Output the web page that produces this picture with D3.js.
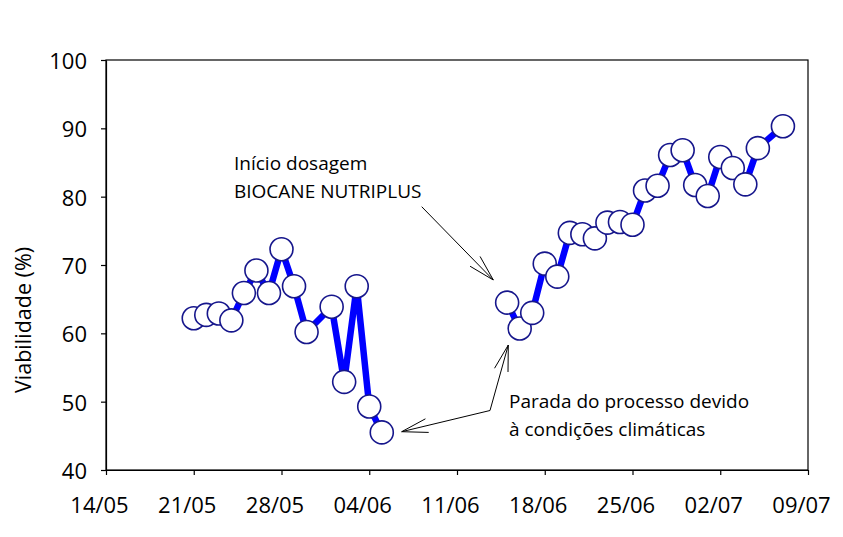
<!DOCTYPE html>
<html>
<head>
<meta charset="utf-8">
<script src="https://cdn.jsdelivr.net/npm/d3@7"></script>
<style>
  html, body { margin: 0; padding: 0; background: #fff; }
  svg { display: block; }
  text { font-family: "Open Sans", sans-serif; fill: #000; }
</style>
</head>
<body>
<svg id="chart" width="843" height="537"></svg>
<script>
// ---- data ----
const year = "2012";
const dates1 = ["21/05","22/05","23/05","24/05","25/05","26/05","27/05","28/05","29/05","30/05","01/06","02/06","03/06","04/06","05/06"];
const values1 = [62.2, 62.7, 62.9, 61.9, 65.9, 69.2, 65.9, 72.3, 66.9, 60.2, 63.9, 52.9, 66.9, 49.3, 45.5];
const dates2 = ["15/06","16/06","17/06","18/06","19/06","20/06","21/06","22/06","23/06","24/06","25/06","26/06","27/06","28/06","29/06","30/06","01/07","02/07","03/07","04/07","05/07","07/07"];
const values2 = [64.5, 60.7, 63.0, 70.2, 68.3, 74.7, 74.5, 73.9, 76.2, 76.3, 75.9, 80.9, 81.6, 86.1, 86.8, 81.7, 80.1, 85.8, 84.2, 81.8, 87.1, 90.3];
const xTickLabels = ["14/05","21/05","28/05","04/06","11/06","18/06","25/06","02/07","09/07"];
const yTicks = [40, 50, 60, 70, 80, 90, 100];
const yTitle = "Viabilidade (%)";
const note1 = ["Início dosagem", "BIOCANE NUTRIPLUS"];
const note2 = ["Parada do processo devido", "à condições climáticas"];

// ---- setup ----
const parse = d3.timeParse("%d/%m/%Y");
const toDate = s => parse(s + "/" + year);
const fmt = d3.timeFormat("%d/%m");
const svg = d3.select("#chart");
svg.append("rect").attr("width", 843).attr("height", 537).attr("fill", "#fff");

const L = 106, R = 808, T = 60, B = 470;
const x = d3.scaleTime()
  .domain([toDate(xTickLabels[0]), toDate(xTickLabels[xTickLabels.length - 1])])
  .range([L, R]);
const y = d3.scaleLinear().domain([40, 100]).range([B, T]);

// frame
svg.append("rect").attr("x", L).attr("y", T).attr("width", R - L).attr("height", B - T)
  .attr("fill", "none").attr("stroke", "#000").attr("stroke-width", 1.2);

// x axis
const gx = svg.append("g").attr("transform", `translate(0,${B})`)
  .call(d3.axisBottom(x).tickValues(xTickLabels.map(toDate)).tickFormat(fmt)
    .tickSize(5).tickSizeOuter(0).tickPadding(22));
gx.selectAll("text").attr("font-size", 22).attr("font-family", "Open Sans, sans-serif").attr("dx", -7);
gx.selectAll("line, path").attr("stroke", "#000").attr("stroke-width", 1.2);

// y axis
const gy = svg.append("g").attr("transform", `translate(${L},0)`)
  .call(d3.axisLeft(y).tickValues(yTicks).tickSize(5).tickSizeOuter(0).tickPadding(14));
gy.selectAll("text").attr("font-size", 22).attr("font-family", "Open Sans, sans-serif").attr("dy", "0.38em");
gy.selectAll("line, path").attr("stroke", "#000").attr("stroke-width", 1.2);

// y title
svg.append("text")
  .attr("transform", `translate(31,320) rotate(-90)`)
  .attr("text-anchor", "middle")
  .attr("font-size", 21.5)
  .text(yTitle);

// ---- series ----
const series = [
  dates1.map((d, i) => ({ date: toDate(d), v: values1[i] })),
  dates2.map((d, i) => ({ date: toDate(d), v: values2[i] }))
];
const line = d3.line().x(d => x(d.date)).y(d => y(d.v));
svg.selectAll("path.series").data(series).enter().append("path")
  .attr("class", "series")
  .attr("d", line)
  .attr("fill", "none")
  .attr("stroke", "#0000ff")
  .attr("stroke-width", 6.5)
  .attr("stroke-linejoin", "miter");

const allPts = series.flat();
svg.selectAll("circle.pt").data(allPts).enter().append("circle")
  .attr("class", "pt")
  .attr("cx", d => x(d.date))
  .attr("cy", d => y(d.v))
  .attr("r", 11.5)
  .attr("fill", "#fff")
  .attr("stroke", "#16168c")
  .attr("stroke-width", 1.6);

// ---- annotations ----
const g = svg.append("g").attr("stroke", "#000").attr("stroke-width", 1).attr("fill", "none");
function arrow(tail, tip, len = 27, ang = 15) {
  g.append("line").attr("x1", tail[0]).attr("y1", tail[1]).attr("x2", tip[0]).attr("y2", tip[1]);
  const a = Math.atan2(tail[1] - tip[1], tail[0] - tip[0]);
  [-1, 1].forEach(s => {
    const b = a + s * ang * Math.PI / 180;
    g.append("line").attr("x1", tip[0]).attr("y1", tip[1])
      .attr("x2", tip[0] + len * Math.cos(b)).attr("y2", tip[1] + len * Math.sin(b));
  });
}
arrow([421.7, 206.7], [493.3, 280]);
arrow([490, 410.5], [508.3, 345]);
arrow([490, 410.5], [401.7, 431.7]);

note1.forEach((t, i) => svg.append("text").attr("x", 234).attr("y", 170 + i * 28).attr("font-size", 19).text(t));
note2.forEach((t, i) => svg.append("text").attr("x", 509).attr("y", 408 + i * 28).attr("font-size", 19).text(t));
</script>
</body>
</html>
